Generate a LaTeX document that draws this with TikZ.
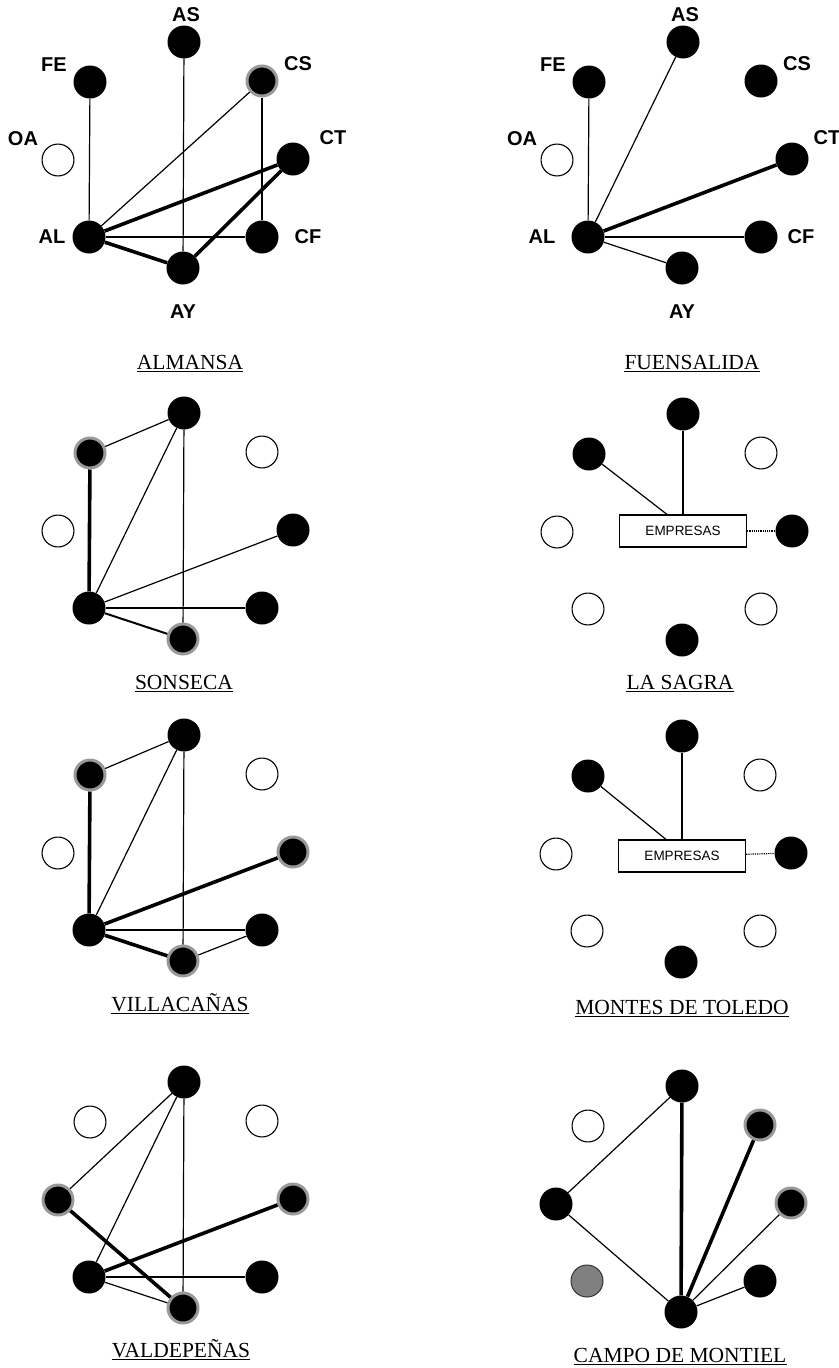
\documentclass[tikz,border=0pt]{standalone}
\usepackage{fontspec}
\setmainfont{Liberation Serif}
\setsansfont{Liberation Sans}

\tikzset{
  blk/.style={circle, fill=black, inner sep=0pt, minimum size=33pt},
  gry/.style={circle, fill=black, draw=gray!80, line width=3pt, inner sep=0pt, minimum size=30pt},
  opn/.style={circle, draw=black, fill=white, line width=1.1pt, inner sep=0pt, minimum size=31.9pt},
  mtl/.style={circle, fill=gray, draw=gray!40!black, line width=1pt, inner sep=0pt, minimum size=32pt},
  thn/.style={line width=1.2pt},
  mdm/.style={line width=2pt},
  thk/.style={line width=3.6pt},
  lbl/.style={font=\sffamily\bfseries\fontsize{20}{20}\selectfont, inner sep=0pt},
  ttl/.style={font=\fontsize{21.5}{21.5}\selectfont, inner sep=0pt, anchor=base},
  emp/.style={draw, fill=white, line width=1.2pt, minimum width=127pt, minimum height=32pt,
    inner sep=0pt, font=\sffamily\fontsize{13.5}{13.5}\selectfont}
}

% slot positions inside one panel
\def\xyAS{184,42}
\def\xyFE{90,82}
\def\xyCS{262,81}
\def\xyOA{58,160}
\def\xyCT{293,159}
\def\xyAL{89,237}
\def\xyCF{262,237}
\def\xyAY{183,268}

\newcommand\ring[2]{%
  \foreach \n/\s in {#2}{%
    \edef\tmp{\noexpand\node[\s] (#1\n) at (\csname xy\n\endcsname) {};}\tmp}}
\newcommand\tags[2]{%
  \foreach \n/\dx/\dy in {#2}
    \node[lbl] (#1l\n) at ([shift={(\dx,\dy)}]#1\n) {\n};}

\begin{document}
\begin{tikzpicture}[x=1pt, y=-1pt]
\useasboundingbox (0,0) rectangle (838,1368);

% ALMANSA
\begin{scope}
  \ring{alm}{AS/blk, FE/blk, CS/gry, OA/opn, CT/blk, AL/blk, CF/blk, AY/blk}
  \tags{alm}{AS/2/-27, FE/-36/-17, CS/36/-17, OA/-35/-21, CT/40/-21, AL/-37/0, CF/46/0, AY/0/44}
  \draw[thn] (almFE) -- (almAL);
  \draw[thn] (almAS) -- (almAY);
  \draw[thn] (almCS) -- (almAL);
  \draw[thn] (almCS) -- (almCF);
  \draw[thn] (almAL) -- (almCF);
  \draw[thk] (almCT) -- (almAL);
  \draw[thk] (almCT) -- (almAY);
  \draw[thk] (almAL) -- (almAY);
  \node[ttl] (almT) at (190,369) {ALMANSA};
\end{scope}

% FUENSALIDA
\begin{scope}[shift={(499,0)}]
  \ring{fue}{AS/blk, FE/blk, CS/blk, OA/opn, CT/blk, AL/blk, CF/blk, AY/blk}
  \tags{fue}{AS/2/-27, FE/-36/-17, CS/36/-17, OA/-35/-21, CT/35/-21, AL/-46/0, CF/40/0, AY/0/44}
  \draw[thn] (fueFE) -- (fueAL);
  \draw[thn] (fueAS) -- (fueAL);
  \draw[thn] (fueCF) -- (fueAL);
  \draw[thn] (fueAY) -- (fueAL);
  \draw[thk] (fueCT) -- (fueAL);
  \node[ttl] (fueT) at (193,369) {FUENSALIDA};
\end{scope}

% SONSECA
\begin{scope}[shift={(0,371)}]
  \ring{son}{AS/blk, FE/gry, CS/opn, OA/opn, CT/blk, AL/blk, CF/blk, AY/gry}
  \draw[thn] (sonFE) -- (sonAS);
  \draw[thn] (sonAS) -- (sonAL);
  \draw[thn] (sonAS) -- (sonAY);
  \draw[thn] (sonAL) -- (sonCT);
  \draw[mdm] (sonAL) -- (sonCF);
  \draw[mdm] (sonAL) -- (sonAY);
  \draw[thk] (sonFE) -- (sonAL);
  \node[ttl] (sonT) at (184,318) {SONSECA};
\end{scope}

% LA SAGRA
\begin{scope}[shift={(499,372)}]
  \ring{sag}{AS/blk, FE/blk, CS/opn, OA/opn, CT/blk, AL/opn, CF/opn, AY/blk}
  \node[emp] (sagE) at (184,159) {EMPRESAS};
  \draw[thn] (sagFE) -- ([xshift=-16pt]sagE.north);
  \draw[thn] (sagAS) -- (sagE);
  \draw[thn, densely dotted] (sagE) -- (sagCT);
  \node[ttl] (sagT) at (181,317) {LA SAGRA};
\end{scope}

% VILLACAÑAS
\begin{scope}[shift={(0,693)}]
  \ring{vil}{AS/blk, FE/gry, CS/opn, OA/opn, CT/gry, AL/blk, CF/blk, AY/gry}
  \draw[thn] (vilFE) -- (vilAS);
  \draw[thn] (vilAS) -- (vilAL);
  \draw[thn] (vilAS) -- (vilAY);
  \draw[thn] (vilAL) -- (vilCF);
  \draw[thn] (vilAY) -- (vilCF);
  \draw[thk] (vilFE) -- (vilAL);
  \draw[thk] (vilAL) -- (vilCT);
  \draw[thk] (vilAL) -- (vilAY);
  \node[ttl] (vilT) at (180,318) {VILLACAÑAS};
\end{scope}

% MONTES DE TOLEDO
\begin{scope}[shift={(498,694)}]
  \ring{mon}{AS/blk, FE/blk, CS/opn, OA/opn, CT/blk, AL/opn, CF/opn, AY/blk}
  \node[emp] (monE) at (184,162) {EMPRESAS};
  \draw[thn] (monFE) -- ([xshift=-16pt]monE.north);
  \draw[thn] (monAS) -- (monE);
  \draw[thn, densely dotted] (monE) -- (monCT);
  \node[ttl] (monT) at (184,320) {MONTES DE TOLEDO};
\end{scope}

% VALDEPEÑAS
\begin{scope}[shift={(0,1040)}]
  \ring{val}{AS/blk, FE/opn, CS/opn, OA/gry, CT/gry, AL/blk, CF/blk, AY/gry}
  \draw[thn] (valAS) -- (valOA);
  \draw[thn] (valAS) -- (valAL);
  \draw[thn] (valAS) -- (valAY);
  \draw[thn] (valAL) -- (valCF);
  \draw[thn] (valAL) -- (valAY);
  \draw[thk] (valOA) -- (valAY);
  \draw[thk] (valAL) -- (valCT);
  \node[ttl] (valT) at (181,317) {VALDEPEÑAS};
\end{scope}

% CAMPO DE MONTIEL
\begin{scope}[shift={(498,1044)}]
  \ring{cam}{AS/blk, FE/opn, CS/gry, OA/blk, CT/gry, AL/mtl, CF/blk, AY/blk}
  \draw[thn] (camAS) -- (camOA);
  \draw[thn] (camOA) -- (camAY);
  \draw[thn] (camCT) -- (camAY);
  \draw[thn] (camCF) -- (camAY);
  \draw[thk] (camAS) -- (camAY);
  \draw[thk] (camCS) -- (camAY);
  \node[ttl] (camT) at (182,318) {CAMPO DE MONTIEL};
\end{scope}

% underlined titles
\foreach \tn in {almT, fueT, sonT, sagT, vilT, monT, valT, camT}
  \draw[line width=1.3pt] ([yshift=-2.8pt]\tn.base west) -- ([yshift=-2.8pt]\tn.base east);
\end{tikzpicture}
\end{document}
